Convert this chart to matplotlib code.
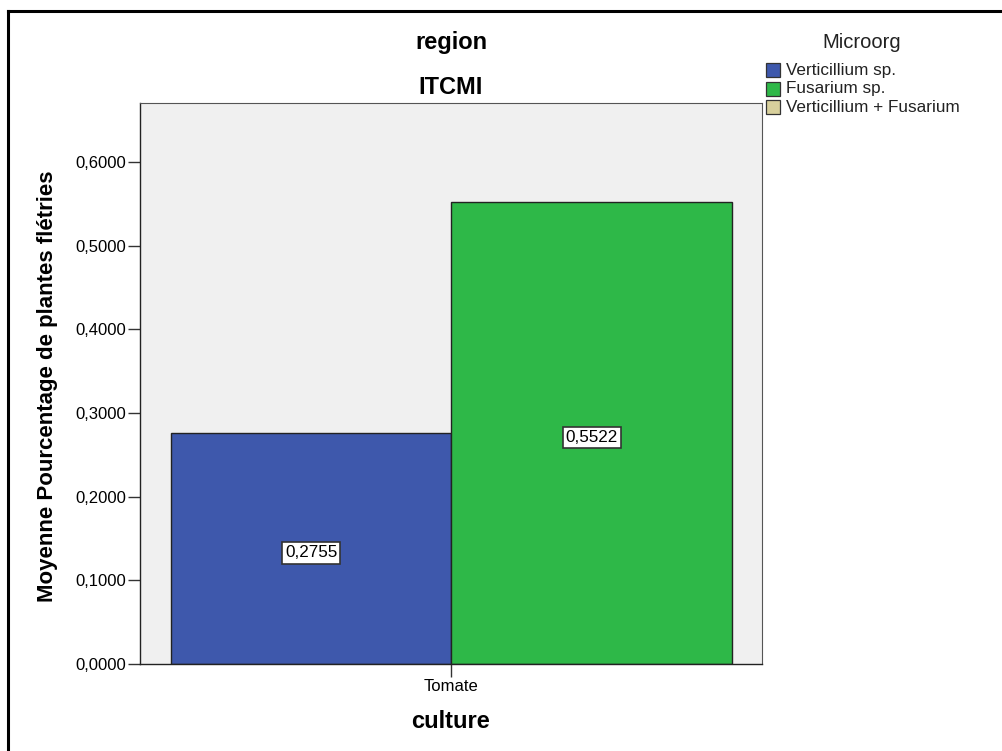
import matplotlib
matplotlib.use("Agg")
import matplotlib.pyplot as plt
from matplotlib.patches import Rectangle
from matplotlib.lines import Line2D

plt.rcParams['font.family'] = ['Liberation Sans', 'DejaVu Sans']

categories = ["Tomate"]
series_names = ["Verticillium sp.", "Fusarium sp.", "Verticillium + Fusarium"]
values_verticillium = [0.2755]
values_fusarium = [0.5522]
colors = ["#3E58AC", "#2EB848", "#D8D09C"]
yticks = [0.0, 0.1, 0.2, 0.3, 0.4, 0.5, 0.6]
ytick_labels = ["0,0000", "0,1000", "0,2000", "0,3000", "0,4000", "0,5000", "0,6000"]

W, H = 1003, 751
fig = plt.figure(figsize=(W / 100, H / 100), dpi=100)

def fx(px):
    return px / W

def fy(py):
    return 1 - py / H

# outer border (top and left visible)
fig.add_artist(Line2D([fx(8), fx(8)], [0, fy(11)], transform=fig.transFigure, color='black', lw=2.2))
fig.add_artist(Line2D([fx(8), 1], [fy(11), fy(11)], transform=fig.transFigure, color='black', lw=2.2))

ax = fig.add_axes([fx(140), fy(664), (762 - 140) / W, (664 - 103) / H])
ax.set_facecolor('#F0F0F0')

bw = 1.0
x0 = 0
b1 = ax.bar([x0 - bw / 2], values_verticillium, width=bw, color=colors[0], edgecolor='#222222', linewidth=1.0)
b2 = ax.bar([x0 + bw / 2], values_fusarium, width=bw, color=colors[1], edgecolor='#222222', linewidth=1.0)

for bars, vals in ((b1, values_verticillium), (b2, values_fusarium)):
    for r, v in zip(bars, vals):
        ax.text(r.get_x() + r.get_width() / 2, v / 2 - 0.005, f"{v:.4f}".replace('.', ','),
                ha='center', va='center', fontsize=12.3,
                bbox=dict(boxstyle='square,pad=0.18', fc='white', ec='#333333', lw=1.2))

ax.set_xlim(-1.11, 1.107)
ax.set_ylim(0, 0.6705)
ax.set_yticks(yticks)
ax.set_yticklabels(ytick_labels, fontsize=12)
ax.set_xticks([x0])
ax.set_xticklabels(categories, fontsize=12)
ax.tick_params(axis='y', length=9, width=1, color='#333333', pad=1)
ax.tick_params(axis='x', length=9, width=1, color='#333333', pad=2)
for s in ['top', 'right']:
    ax.spines[s].set_color('#555555')
    ax.spines[s].set_linewidth(0.8)
for s in ['left', 'bottom']:
    ax.spines[s].set_color('#222222')
    ax.spines[s].set_linewidth(1.0)

ax.set_ylabel("Moyenne Pourcentage de plantes flétries", fontsize=16, fontweight='bold')
ax.yaxis.set_label_coords((48 - 140) / 622, (664 - 386) / 561)
ax.yaxis.label.set_va('center')
fig.text(fx(451), fy(722), "culture", ha='center', va='center', fontsize=17, fontweight='bold')

fig.text(fx(451), fy(43), "region", ha='center', va='center', fontsize=17, fontweight='bold')
fig.text(fx(451), fy(87), "ITCMI", ha='center', va='center', fontsize=17, fontweight='bold')

# legend
fig.text(fx(862), fy(42), "Microorg", ha='center', va='center', fontsize=14.5, color='#222222')
rows_y = [70, 88.5, 107]
for c, name, ry in zip(colors, series_names, rows_y):
    fig.add_artist(Rectangle((fx(766), fy(ry + 7)), 14 / W, 14 / H, transform=fig.transFigure,
                             facecolor=c, edgecolor='#333333', linewidth=0.9))
    fig.text(fx(786), fy(ry), name, ha='left', va='center', fontsize=12.3, color='#222222')

fig.savefig("out.png", dpi=100)
